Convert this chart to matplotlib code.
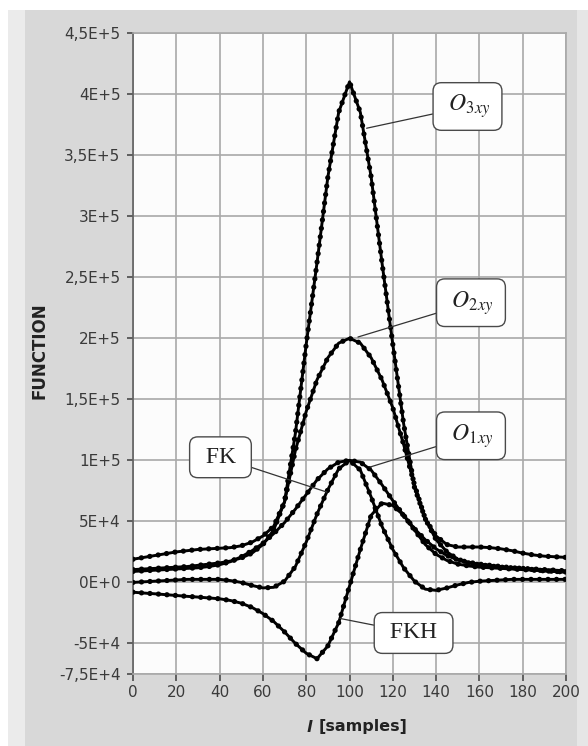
import numpy as np
import matplotlib.pyplot as plt
import matplotlib.patches as patches

plt.rcParams['mathtext.fontset'] = 'stix'

# sample lag axis
lag = np.arange(0, 201, 5)

# values in thousands, every 5 samples
o3xy = [19, 20.5, 22, 23.5, 25, 26, 27, 27.5, 28, 28.5, 30, 33, 38, 46, 66,
        122, 195, 262, 332, 385, 410, 385, 332, 262, 195, 130, 78, 52, 38, 31,
        29, 29, 29, 28.5, 27.5, 26, 24, 22.5, 21.5, 21, 20.5]
o2xy = [10.5, 11, 11.5, 12, 12.5, 13, 14, 15, 16, 17.5, 20, 24, 31, 43, 66,
        108, 140, 166, 184, 196, 200, 196, 184, 166, 143, 113, 80, 52, 35, 25,
        19, 16, 14.5, 13.5, 12.5, 12, 11.5, 11, 10.5, 10, 9.5]
o1xy = [9, 9.5, 10, 10.5, 11, 11.5, 12, 13, 14.5, 17, 21, 26, 32, 40, 49,
        60, 72, 84, 93, 98.5, 100, 98.5, 92, 80, 67, 55, 44, 35, 27.5, 22,
        18.5, 16.5, 15, 14, 13, 12, 11.5, 10.5, 9.5, 9, 8.5]
fk = [0, 0.5, 1, 1.5, 2, 2.5, 2.5, 2.5, 2.5, 1.5, 0, -2.5, -4.5, -4, 1,
      13, 33, 56, 76, 93, 100, 92, 70, 46, 27, 12, 1, -5.5, -6.5, -4.5,
      -2, 0, 1, 1.5, 2, 2.5, 2.5, 2.5, 2.5, 2.5, 2.5]
fkh = [-8, -8.7, -9.3, -10, -10.7, -11.4, -12, -12.7, -13.4, -14.8, -17, -20.5,
       -25.5, -32, -40.5, -50, -58, -62.5, -52, -33, -3, 27, 55, 65, 63, 55,
       43, 31, 23, 18, 15, 13.5, 12.5, 12, 11.5, 11, 10.5, 10, 9.5, 9, 8.5]

yticks = [450000, 400000, 350000, 300000, 250000, 200000, 150000, 100000,
          50000, 0, -50000, -75000]
ytick_labels = ['4,5E+5', '4E+5', '3,5E+5', '3E+5', '2,5E+5', '2E+5', '1,5E+5',
                '1E+5', '5E+4', '0E+0', '-5E+4', '-7,5E+4']
xticks = np.arange(0, 201, 20)

fig = plt.figure(figsize=(5.88, 7.46), dpi=100, facecolor='white')

# grey panel behind the graph, with the lighter strips on the sides
for x0, w, c in [(8, 580, '#d8d8d8'), (8, 17, '#ebebeb'), (577, 11, '#e6e6e6')]:
    fig.patches.append(patches.Rectangle((x0/588, 0), w/588, 1 - 10/746,
                                         transform=fig.transFigure, facecolor=c,
                                         edgecolor='none', zorder=-10))

ax = fig.add_axes([133/588, 1 - 674/746, 433/588, 641/746])
ax.set_zorder(5)
ax.set_facecolor('#fcfcfc')

grid_c = '#a9a9a9'
for s in ['top', 'right', 'bottom']:
    ax.spines[s].set_color(grid_c)
    ax.spines[s].set_linewidth(1.2)
ax.spines['left'].set_color('#606060')
ax.spines['left'].set_linewidth(1.2)

for series in [o3xy, o2xy, o1xy, fk, fkh]:
    vals = np.array(series) * 1000
    ax.plot(lag, vals, color='black', lw=2.1, solid_joinstyle='round', zorder=3)
    ax.plot(lag, vals, color='black', lw=3.8, linestyle=(0, (0.01, 1.6)),
            dash_capstyle='round', zorder=3)

ax.set_xlim(0, 200)
ax.set_ylim(-75000, 450000)
ax.set_xticks(xticks)
ax.set_yticks(yticks)
ax.set_yticklabels(ytick_labels)
ax.grid(True, color=grid_c, lw=1.2, zorder=1)
ax.set_axisbelow(True)
ax.tick_params(axis='y', direction='out', length=4, width=1.3, color='#555555',
               pad=5, labelsize=11, labelcolor='#3a3a3a')
ax.tick_params(axis='x', direction='out', length=5, width=1.3, color='#555555',
               pad=3, labelsize=11, labelcolor='#3a3a3a')

fig.text(40/588, 1 - 351/746, 'FUNCTION', rotation=90, ha='center', va='center',
         fontsize=12, fontweight='bold', color='#222222')
fig.text(312/588, 1 - 727/746, 'l', ha='right', va='center', fontsize=11.5,
         fontweight='bold', style='italic', color='#222222')
fig.text(319/588, 1 - 727/746, '[samples]', ha='left', va='center', fontsize=11.5,
         fontweight='bold', color='#222222')

box = dict(boxstyle='round,pad=0.42,rounding_size=0.35', fc='white', ec='#4a4a4a', lw=1.0)
line = dict(arrowstyle='-', color='#333333', lw=0.9, shrinkA=0, shrinkB=0)
serif = ['Liberation Serif', 'DejaVu Serif']

# label text, pointed place on curve, box centre
notes = [
    (r' $O_{3xy}$ ', (107.9, 372000), (154.5, 389800)),
    (r' $O_{2xy}$ ', (103.9, 201000), (156.1, 229100)),
    (r' $O_{1xy}$ ', (109.5, 94500), (156.1, 120100)),
    (' FK ', (89.5, 74000), (40.4, 102500)),
    (' FKH ', (95.6, -29500), (129.6, -41400)),
]
for txt, xy, xytext in notes:
    ax.annotate(txt, xy=xy, xytext=xytext, ha='center', va='center',
                fontsize=17, family=serif, color='#222222', bbox=box,
                arrowprops=line, zorder=5)

fig.savefig('out.png', dpi=100, facecolor=fig.get_facecolor())
